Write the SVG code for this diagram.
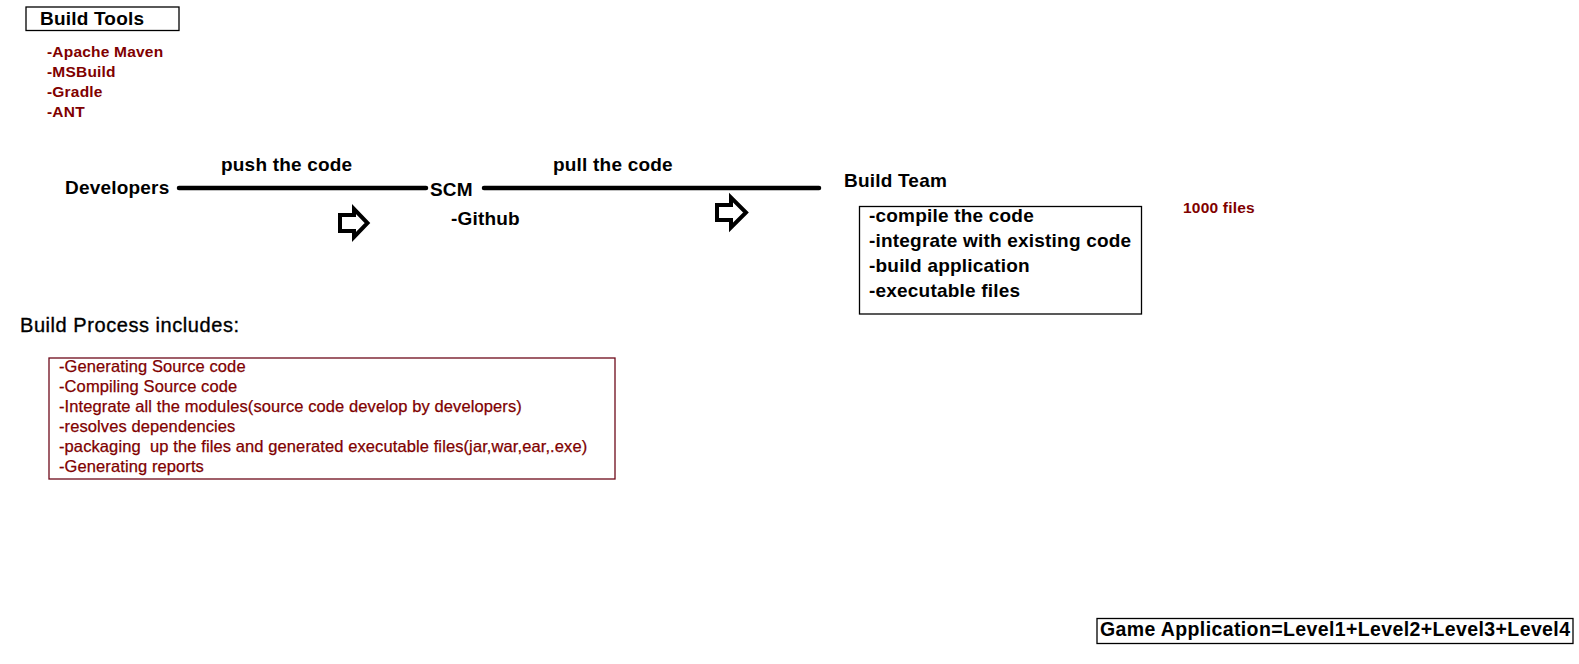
<svg xmlns="http://www.w3.org/2000/svg" width="1579" height="664" viewBox="0 0 1579 664">
<style>
  text { font-family: "Liberation Sans", Arial, sans-serif; }
  .hb { font-size: 19px; font-weight: bold; fill: #000; letter-spacing: 0.2px; }
  .hr { font-size: 20px; fill: #000; stroke: #000; stroke-width: 0.35px; }
  .rb { font-size: 15.5px; font-weight: bold; fill: #800000; letter-spacing: 0.2px; }
  .rr { font-size: 16.5px; fill: #800000; stroke: #800000; stroke-width: 0.25px; letter-spacing: 0.1px; }
  .box { fill: none; stroke: #000; stroke-width: 1.3; }
  .rbox { fill: none; stroke: #6e0a1a; stroke-width: 1.3; }
  .wire { stroke: #000; stroke-width: 4.5; stroke-linecap: round; fill: none; }
  .blk { fill: #fff; stroke: #000; stroke-width: 4; stroke-linejoin: miter; }
</style>
<rect width="1579" height="664" fill="#fff"/>

<g id="build-tools">
  <rect class="box" x="26" y="7" width="153" height="23.5"/>
  <text class="hb" x="40" y="25">Build Tools</text>
  <text class="rb" x="47" y="57">-Apache Maven</text>
  <text class="rb" x="47" y="77">-MSBuild</text>
  <text class="rb" x="47" y="97">-Gradle</text>
  <text class="rb" x="47" y="117">-ANT</text>
</g>

<g id="connectors">
  <line class="wire" x1="179" y1="188" x2="426" y2="188"/>
  <line class="wire" x1="484" y1="188" x2="819" y2="188"/>
  <polygon class="blk" points="340,215 354,215 354,209 367.5,223 354,237 354,231 340,231"/>
  <polygon class="blk" points="717,205 731,205 731,197.5 746,212.5 731,227.5 731,220 717,220"/>
  <text class="hb" x="221" y="171">push the code</text>
  <text class="hb" x="553" y="171">pull the code</text>
</g>

<g id="developers">
  <text class="hb" x="65" y="194">Developers</text>
</g>

<g id="scm">
  <text class="hb" x="430" y="196">SCM</text>
  <text class="hb" x="451" y="225">-Github</text>
</g>

<g id="build-team">
  <text class="hb" x="844" y="187">Build Team</text>
  <rect class="box" x="859.5" y="206.5" width="282" height="107.5"/>
  <text class="hb" x="869" y="222">-compile the code</text>
  <text class="hb" x="869" y="247">-integrate with existing code</text>
  <text class="hb" x="869" y="272">-build application</text>
  <text class="hb" x="869" y="297">-executable files</text>
</g>

<g id="files-note">
  <text class="rb" x="1183" y="213">1000 files</text>
</g>

<g id="build-process">
  <text class="hr" x="20" y="332" textLength="219" lengthAdjust="spacing">Build Process includes:</text>
  <rect class="rbox" x="49" y="358" width="566" height="121"/>
  <text class="rr" x="59" y="372">-Generating Source code</text>
  <text class="rr" x="59" y="392">-Compiling Source code</text>
  <text class="rr" x="59" y="412">-Integrate all the modules(source code develop by developers)</text>
  <text class="rr" x="59" y="432">-resolves dependencies</text>
  <text class="rr" x="59" y="452" xml:space="preserve">-packaging  up the files and generated executable files(jar,war,ear,.exe)</text>
  <text class="rr" x="59" y="472">-Generating reports</text>
</g>

<g id="game-application">
  <rect class="box" x="1097" y="618.5" width="476" height="25"/>
  <text x="1100" y="636" font-size="19.5" font-weight="bold" fill="#000" textLength="470" lengthAdjust="spacing">Game Application=Level1+Level2+Level3+Level4</text>
</g>
</svg>
